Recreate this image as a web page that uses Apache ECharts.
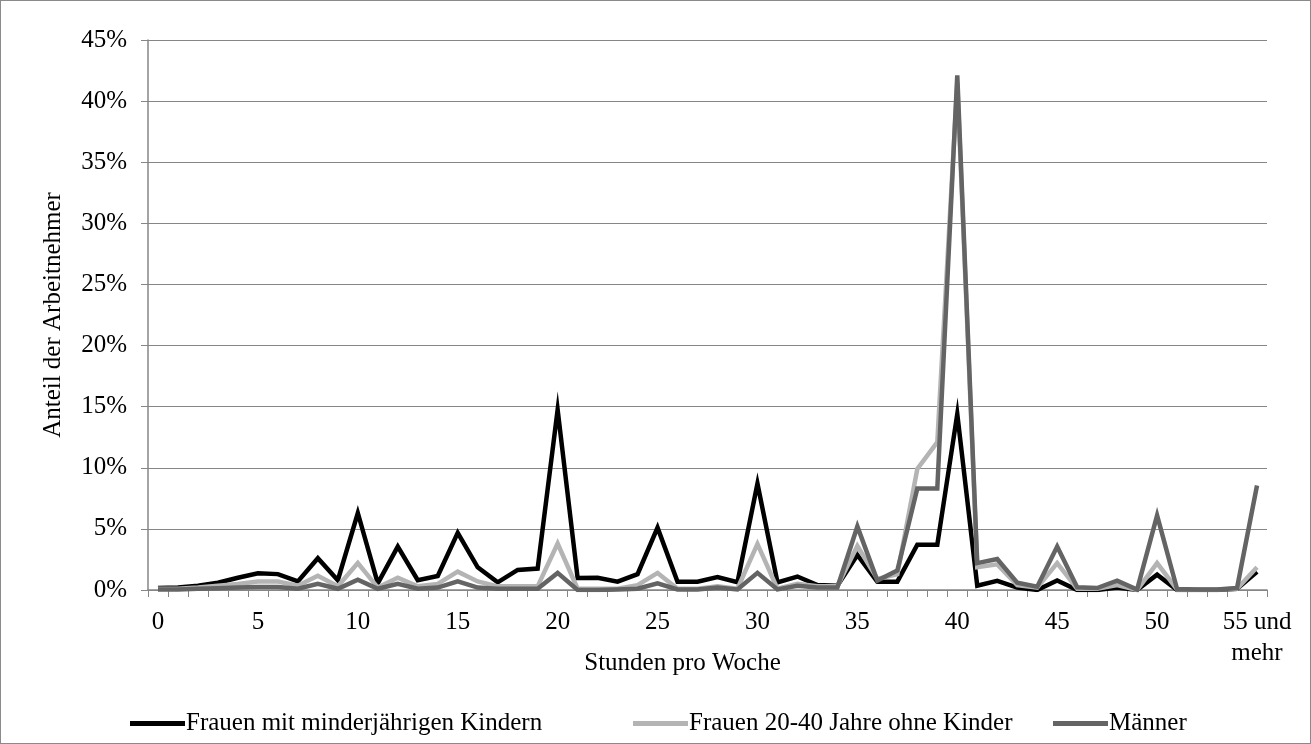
<!DOCTYPE html>
<html>
<head>
<meta charset="utf-8">
<script src="https://cdn.jsdelivr.net/npm/echarts@6/dist/echarts.min.js"></script>
<style>
html,body{margin:0;padding:0;background:#fff;}
#frame{width:1311px;height:744px;box-sizing:border-box;border:1px solid #8a8a8a;}
#chart{width:100%;height:100%;}
</style>
</head>
<body>
<div id="frame"><div id="chart"></div></div>
<script>
const categories = ['0','1','2','3','4','5','6','7','8','9','10','11','12','13','14','15','16','17','18','19','20','21','22','23','24','25','26','27','28','29','30','31','32','33','34','35','36','37','38','39','40','41','42','43','44','45','46','47','48','49','50','51','52','53','54','55 und\nmehr'];

const seriesNames = ['Frauen mit minderjährigen Kindern', 'Frauen 20-40 Jahre ohne Kinder', 'Männer'];

// values in percent
const frauenMitKindern = [0.16,0.2,0.35,0.6,1.0,1.37,1.3,0.7,2.6,0.8,6.3,0.55,3.55,0.8,1.15,4.67,1.86,0.63,1.64,1.75,14.75,0.98,1.0,0.68,1.3,5.1,0.68,0.68,1.05,0.63,8.7,0.63,1.1,0.4,0.35,2.87,0.68,0.68,3.7,3.7,14.4,0.35,0.75,0.2,0.0,0.77,0.0,0.0,0.2,0.0,1.26,0.0,0.0,0.0,0.1,1.5];
const frauenOhneKinder = [0.1,0.1,0.2,0.35,0.5,0.7,0.7,0.35,1.17,0.3,2.2,0.2,1.0,0.3,0.5,1.5,0.7,0.3,0.3,0.3,3.8,0.1,0.1,0.1,0.4,1.4,0.1,0.1,0.3,0.1,3.77,0.1,0.5,0.3,0.3,3.6,0.9,1.3,9.9,12.1,41.5,1.86,2.1,0.4,0.2,2.2,0.1,0.1,0.4,0.0,2.2,0.05,0.05,0.05,0.1,1.86];
const maenner = [0.05,0.05,0.1,0.15,0.2,0.25,0.25,0.1,0.5,0.1,0.85,0.1,0.5,0.1,0.2,0.7,0.2,0.1,0.1,0.1,1.4,0.0,0.0,0.05,0.1,0.55,0.05,0.05,0.2,0.05,1.4,0.05,0.35,0.2,0.2,5.2,0.77,1.6,8.3,8.3,42.1,2.2,2.54,0.6,0.27,3.55,0.22,0.16,0.77,0.03,6.1,0.08,0.05,0.05,0.16,8.55];

const yTicks = [0,5,10,15,20,25,30,35,40,45];

const colors = ['#000000', '#b4b4b4', '#646464'];
const font = 'Liberation Serif';
const fs = 25;

const chart = echarts.init(document.getElementById('chart'));
const seriesData = [frauenMitKindern, frauenOhneKinder, maenner];

const legendBase = {
  bottom: 2, icon: 'rect', itemWidth: 55, itemHeight: 5, itemGap: 0,
  textStyle: {fontFamily: font, fontSize: fs, color: '#000', padding: [0,0,0,-4]}
};

chart.setOption({
  animation: false,
  backgroundColor: '#fff',
  grid: {left: 147, right: 43, top: 39, bottom: 153},
  legend: [
    Object.assign({}, legendBase, {left: 124, data: [seriesNames[0]]}),
    Object.assign({}, legendBase, {left: 627, data: [seriesNames[1]]}),
    Object.assign({}, legendBase, {left: 1047, data: [seriesNames[2]]})
  ],
  xAxis: {
    type: 'category',
    data: categories,
    boundaryGap: true,
    name: 'Stunden pro Woche',
    nameLocation: 'middle',
    nameGap: 61,
    nameMoveOverlap: false,
    nameTextStyle: {fontFamily: font, fontSize: fs, color: '#000', padding: [0, 50, 0, 0]},
    axisLine: {lineStyle: {color: '#868686', width: 1.5}},
    axisTick: {show: true, interval: 0, length: 7, lineStyle: {color: '#868686'}},
    axisLabel: {
      interval: (i) => i % 5 === 0,
      fontFamily: font, fontSize: fs, color: '#000', margin: 17, lineHeight: 31
    },
    splitLine: {show: false}
  },
  yAxis: {
    type: 'value',
    min: yTicks[0], max: yTicks[yTicks.length - 1], interval: 5,
    name: 'Anteil der Arbeitnehmer',
    nameLocation: 'middle',
    nameGap: 82,
    nameRotate: 90,
    nameMoveOverlap: false,
    nameTextStyle: {fontFamily: font, fontSize: fs, color: '#000'},
    axisLine: {show: true, lineStyle: {color: '#868686', width: 1.5}},
    axisTick: {show: true, length: 7, lineStyle: {color: '#868686'}},
    axisLabel: {formatter: (v) => v + '%', fontFamily: font, fontSize: fs, color: '#000', margin: 21},
    splitLine: {lineStyle: {color: '#868686', width: 1.2}}
  },
  series: seriesNames.map((n, i) => ({
    name: n,
    type: 'line',
    data: seriesData[i],
    symbol: 'none',
    lineStyle: {color: colors[i], width: 4.5, join: 'miter'},
    itemStyle: {color: colors[i]}
  }))
});
</script>
</body>
</html>
